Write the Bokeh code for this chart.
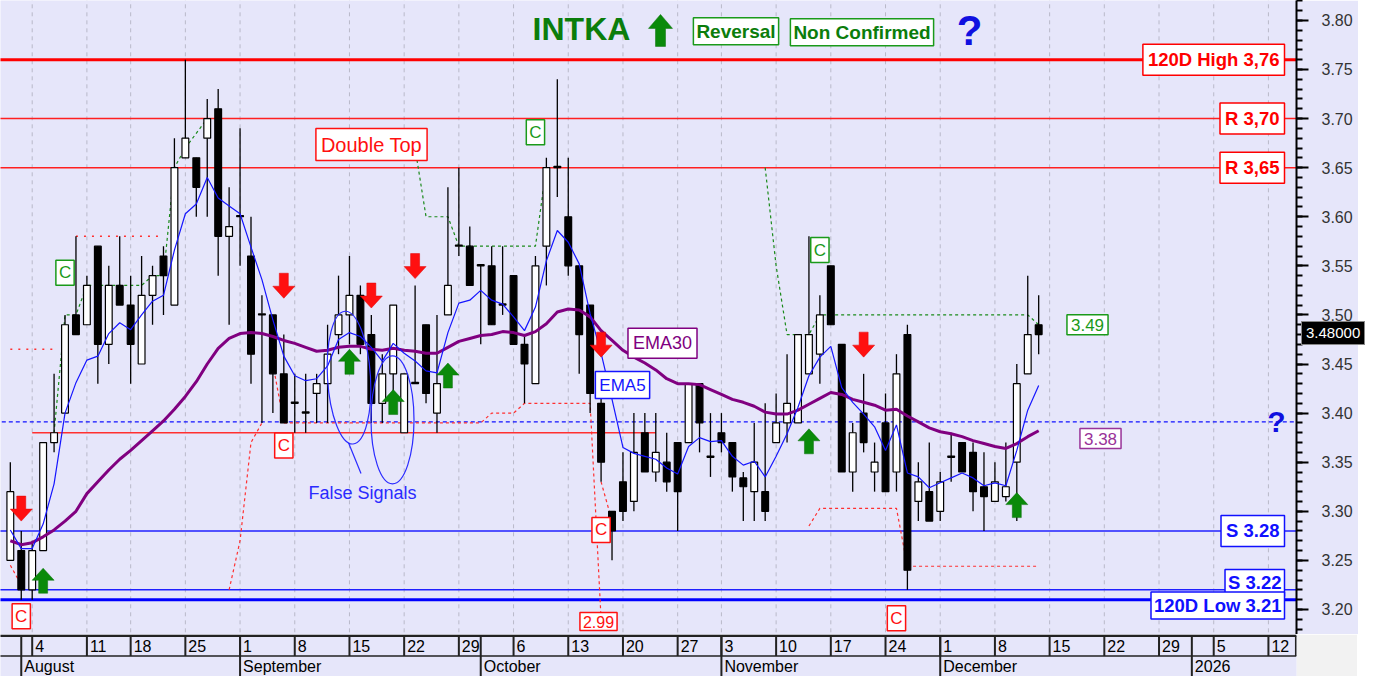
import pandas as pd
from bokeh.plotting import figure
from bokeh.layouts import column, row
from bokeh.models import Range1d, SingleIntervalTicker, PrintfTickFormatter, Label, Div
from bokeh.core.properties import value
from bokeh.embed import file_html
from bokeh.resources import INLINE

# ------------------------------------------------------------------ data
ticker_name = "INTKA"
dates = [
    "2025-07-31", "2025-08-01",
    "2025-08-04", "2025-08-05", "2025-08-06", "2025-08-07", "2025-08-08",
    "2025-08-11", "2025-08-12", "2025-08-13", "2025-08-14",
    "2025-08-18", "2025-08-19", "2025-08-20", "2025-08-21", "2025-08-22",
    "2025-08-25", "2025-08-26", "2025-08-27", "2025-08-28", "2025-08-29",
    "2025-09-01", "2025-09-02", "2025-09-03", "2025-09-04", "2025-09-05",
    "2025-09-08", "2025-09-09", "2025-09-10", "2025-09-11", "2025-09-12",
    "2025-09-15", "2025-09-16", "2025-09-17", "2025-09-18", "2025-09-19",
    "2025-09-22", "2025-09-23", "2025-09-24", "2025-09-25", "2025-09-26",
    "2025-09-29", "2025-09-30", "2025-10-01", "2025-10-02", "2025-10-03",
    "2025-10-06", "2025-10-07", "2025-10-08", "2025-10-09", "2025-10-10",
    "2025-10-13", "2025-10-14", "2025-10-15", "2025-10-16", "2025-10-17",
    "2025-10-20", "2025-10-21", "2025-10-22", "2025-10-23", "2025-10-24",
    "2025-10-27", "2025-10-29", "2025-10-30", "2025-10-31",
    "2025-11-03", "2025-11-04", "2025-11-05", "2025-11-06", "2025-11-07",
    "2025-11-10", "2025-11-11", "2025-11-12", "2025-11-13", "2025-11-14",
    "2025-11-17", "2025-11-18", "2025-11-19", "2025-11-20", "2025-11-21",
    "2025-11-24", "2025-11-25", "2025-11-26", "2025-11-27", "2025-11-28",
    "2025-12-01", "2025-12-02", "2025-12-03", "2025-12-04", "2025-12-05",
    "2025-12-08", "2025-12-09", "2025-12-10", "2025-12-11", "2025-12-12",
]
opens = [3.25, 3.26, 3.22, 3.26, 3.37, 3.40, 3.50, 3.49, 3.57, 3.47, 3.53,
         3.51, 3.45, 3.52, 3.56, 3.51, 3.66, 3.66, 3.68, 3.71, 3.58,
         3.60, 3.56, 3.50, 3.50, 3.44, 3.41, 3.40, 3.42, 3.43, 3.48,
         3.50, 3.52, 3.48, 3.41, 3.44, 3.38, 3.43, 3.49, 3.40, 3.50,
         3.57, 3.57, 3.55, 3.55, 3.51, 3.54, 3.47, 3.43, 3.57, 3.65,
         3.60, 3.55, 3.51, 3.41, 3.30, 3.33, 3.31, 3.38, 3.34, 3.35,
         3.37, 3.37, 3.43, 3.355, 3.38, 3.37, 3.334, 3.32, 3.32,
         3.37, 3.39, 3.39, 3.44, 3.46, 3.55, 3.47, 3.34, 3.40, 3.34,
         3.39, 3.34, 3.48, 3.31, 3.32, 3.30, 3.355, 3.37, 3.36, 3.325,
         3.31, 3.315, 3.35, 3.44, 3.49]
highs = [3.35, 3.28, 3.27, 3.37, 3.44, 3.50, 3.58, 3.54, 3.57, 3.55, 3.58,
         3.54, 3.56, 3.55, 3.57, 3.68, 3.76, 3.66, 3.72, 3.73, 3.63,
         3.69, 3.60, 3.52, 3.50, 3.48, 3.44, 3.44, 3.44, 3.49, 3.54,
         3.56, 3.53, 3.50, 3.46, 3.51, 3.44, 3.53, 3.49, 3.50, 3.63,
         3.65, 3.59, 3.55, 3.57, 3.57, 3.54, 3.48, 3.56, 3.66, 3.74,
         3.66, 3.55, 3.51, 3.42, 3.30, 3.36, 3.40, 3.40, 3.40, 3.38,
         3.37, 3.43, 3.43, 3.40, 3.40, 3.37, 3.34, 3.39, 3.41,
         3.42, 3.46, 3.48, 3.58, 3.52, 3.55, 3.47, 3.39, 3.44, 3.37,
         3.42, 3.46, 3.49, 3.35, 3.37, 3.34, 3.38, 3.37, 3.37, 3.36,
         3.35, 3.37, 3.45, 3.54, 3.52]
lows = [3.25, 3.21, 3.21, 3.26, 3.36, 3.40, 3.48, 3.49, 3.43, 3.45, 3.51,
        3.43, 3.45, 3.49, 3.50, 3.51, 3.66, 3.60, 3.60, 3.54, 3.49,
        3.55, 3.43, 3.39, 3.40, 3.39, 3.38, 3.38, 3.39, 3.39, 3.46,
        3.47, 3.46, 3.39, 3.39, 3.42, 3.38, 3.43, 3.41, 3.38, 3.50,
        3.56, 3.53, 3.47, 3.49, 3.50, 3.47, 3.41, 3.43, 3.53, 3.62,
        3.54, 3.44, 3.40, 3.33, 3.25, 3.29, 3.30, 3.34, 3.33, 3.32,
        3.28, 3.37, 3.36, 3.335, 3.36, 3.32, 3.29, 3.29, 3.29,
        3.37, 3.37, 3.39, 3.44, 3.43, 3.49, 3.34, 3.32, 3.36, 3.32,
        3.32, 3.32, 3.22, 3.29, 3.29, 3.29, 3.33, 3.34, 3.30, 3.28,
        3.31, 3.31, 3.29, 3.44, 3.46]
closes = [3.32, 3.22, 3.26, 3.37, 3.38, 3.49, 3.48, 3.53, 3.47, 3.53, 3.51,
          3.47, 3.52, 3.54, 3.54, 3.65, 3.68, 3.63, 3.70, 3.58, 3.59,
          3.60, 3.46, 3.50, 3.44, 3.39, 3.41, 3.40, 3.43, 3.46, 3.50,
          3.52, 3.47, 3.41, 3.44, 3.51, 3.44, 3.43, 3.42, 3.43, 3.53,
          3.57, 3.53, 3.55, 3.49, 3.51, 3.47, 3.45, 3.55, 3.65, 3.65,
          3.55, 3.48, 3.42, 3.35, 3.28, 3.30, 3.36, 3.34, 3.36, 3.33,
          3.32, 3.43, 3.39, 3.355, 3.37, 3.335, 3.325, 3.35, 3.30,
          3.39, 3.41, 3.48, 3.48, 3.50, 3.49, 3.34, 3.38, 3.37, 3.35,
          3.32, 3.44, 3.24, 3.33, 3.29, 3.33, 3.355, 3.34, 3.32, 3.315,
          3.33, 3.325, 3.43, 3.48, 3.48]
ema5 = [3.281, 3.262, 3.262, 3.287, 3.328, 3.400, 3.431, 3.454, 3.458, 3.481, 3.492,
        3.485, 3.500, 3.514, 3.520, 3.566, 3.603, 3.613, 3.640, 3.619, 3.611,
        3.603, 3.569, 3.536, 3.495, 3.458, 3.438, 3.433, 3.435, 3.448, 3.475,
        3.482, 3.478, 3.467, 3.453, 3.471, 3.461, 3.453, 3.443, 3.441, 3.482,
        3.512, 3.515, 3.525, 3.515, 3.511, 3.498, 3.484, 3.508, 3.555, 3.586,
        3.574, 3.552, 3.501, 3.461, 3.414, 3.365, 3.359, 3.356, 3.353, 3.344,
        3.338, 3.366, 3.375, 3.371, 3.372, 3.356, 3.347, 3.351, 3.335,
        3.356, 3.379, 3.406, 3.438, 3.457, 3.468, 3.426, 3.411, 3.399, 3.386,
        3.362, 3.388, 3.339, 3.335, 3.324, 3.329, 3.334, 3.339, 3.334, 3.326,
        3.329, 3.326, 3.362, 3.403, 3.428]
ema30 = [3.270, 3.266, 3.268, 3.274, 3.281, 3.290, 3.300, 3.318, 3.330, 3.342, 3.353,
         3.362, 3.372, 3.382, 3.392, 3.404, 3.417, 3.432, 3.450, 3.466, 3.476,
         3.481, 3.482, 3.481, 3.478, 3.474, 3.471, 3.467, 3.463, 3.464, 3.467,
         3.468, 3.468, 3.465, 3.464, 3.466, 3.464, 3.463, 3.461, 3.461, 3.467,
         3.473, 3.476, 3.479, 3.480, 3.483, 3.482, 3.479, 3.483, 3.491, 3.503,
         3.506, 3.505, 3.498, 3.484, 3.474, 3.464, 3.457, 3.451, 3.444, 3.435,
         3.430, 3.430, 3.429, 3.424, 3.419, 3.414, 3.411, 3.407, 3.401,
         3.399, 3.399, 3.403, 3.409, 3.415, 3.421, 3.419, 3.414, 3.411, 3.408,
         3.403, 3.404, 3.397, 3.391, 3.385, 3.381, 3.379, 3.376, 3.372, 3.369,
         3.366, 3.364, 3.369, 3.376, 3.382]

holidays = ["2025-08-15", "2025-10-28"]

high_120d = 3.76
low_120d = 3.21
resistances = [3.70, 3.65]
resistance_labels = ["R 3,70", "R 3,65"]
supports = [3.28, 3.22]
support_labels = ["S 3.28", "S 3.22"]
pivot_level = 3.391
neckline_level = 3.38
neckline_span = ["2025-08-04", "2025-10-23"]
last_price = 3.48
trail_value = 3.49
ema30_value = 3.38
target_value = 2.99

week_days = ["2025-08-04", "2025-08-11", "2025-08-18", "2025-08-25", "2025-09-01",
             "2025-09-08", "2025-09-15", "2025-09-22", "2025-09-29", "2025-10-06",
             "2025-10-13", "2025-10-20", "2025-10-27", "2025-11-03", "2025-11-10",
             "2025-11-17", "2025-11-24", "2025-12-01", "2025-12-08", "2025-12-15",
             "2025-12-22", "2025-12-29", "2026-01-05", "2026-01-12"]
week_labels = ["4", "11", "18", "25", "1", "8", "15", "22", "29", "6", "13", "20",
               "27", "3", "10", "17", "24", "1", "8", "15", "22", "29", "5", "12"]
month_days = ["2025-08-01", "2025-09-01", "2025-10-01", "2025-11-03", "2025-12-01", "2026-01-01"]
month_labels = ["August", "September", "October", "November", "December", "2026"]

sell_dates = ["2025-08-01", "2025-09-05", "2025-09-17", "2025-09-23", "2025-10-16", "2025-11-20"]
sell_tips = [3.290, 3.517, 3.507, 3.537, 3.457, 3.457]
buy_dates = ["2025-08-05", "2025-09-15", "2025-09-19", "2025-09-26", "2025-11-13", "2025-12-10"]
buy_tips = [3.242, 3.465, 3.424, 3.451, 3.384, 3.319]

c_green_dates = ["2025-08-07", "2025-10-08", "2025-11-14"]
c_green_y = [3.543, 3.686, 3.566]
c_red_dates = ["2025-08-01", "2025-09-05", "2025-10-16", "2025-11-25"]
c_red_y = [3.193, 3.367, 3.281, 3.191]

green_trails = [
    (["2025-08-06", "2025-08-07", "2025-08-08", "2025-08-11", "2025-08-19", "2025-08-20",
      "2025-08-21", "2025-08-22", "2025-08-25", "2025-08-27"],
     [3.38, 3.50, 3.50, 3.53, 3.53, 3.54, 3.54, 3.65, 3.67, 3.70]),
    (["2025-09-23", "2025-09-24", "2025-09-26", "2025-09-29", "2025-10-08", "2025-10-09"],
     [3.67, 3.60, 3.60, 3.57, 3.57, 3.65]),
    (["2025-11-07", "2025-11-10", "2025-11-11", "2025-11-13", "2025-11-14", "2025-12-11", "2025-12-12"],
     [3.65, 3.55, 3.48, 3.48, 3.50, 3.50, 3.49]),
]
red_trails = [
    (["2025-07-31", "2025-08-01"], [3.245, 3.225]),
    (["2025-08-29", "2025-09-01", "2025-09-02", "2025-09-03"], [3.22, 3.27, 3.37, 3.39]),
    (["2025-09-04", "2025-09-05", "2025-10-01", "2025-10-02", "2025-10-06", "2025-10-07",
      "2025-10-15", "2025-10-16"],
     [3.45, 3.39, 3.39, 3.40, 3.40, 3.41, 3.41, 3.19]),
    (["2025-10-16", "2025-10-17"], [3.33, 3.29]),
    (["2025-11-13", "2025-11-14", "2025-11-25", "2025-11-26", "2025-12-12"],
     [3.285, 3.303, 3.303, 3.244, 3.244]),
]
red_dotted = [
    (["2025-07-31", "2025-08-06"], [3.465, 3.465]),
    (["2025-08-08", "2025-08-21"], [3.58, 3.58]),
]

# ------------------------------------------------------------------ calendar
cal = pd.bdate_range("2025-07-31", "2026-01-16")
cal = cal[~cal.isin(pd.to_datetime(holidays))]
origin = cal.get_loc(pd.Timestamp("2025-08-04"))


def X(d):
    return float(cal.get_loc(pd.Timestamp(d)) - origin)


# helpers that turn a picture-pixel placement into data coordinates (annotations only)
def RX(px):
    return (px - 31.7) / 10.94


def RY(py):
    return 3.80 - (py - 20) / 988.0


BG = "#E6E6FA"
W, AXW = 1358, 62
FW, FH, BH = W - AXW, 634, 42
x0r, x1r = RX(0), RX(FW)
y0r, y1r = RY(638), RY(0)
PXX = (x1r - x0r) / FW
PXY = (y1r - y0r) / FH
FONT = "Liberation Sans"

p = figure(width=W, height=FH, x_range=Range1d(x0r, x1r), y_range=Range1d(y0r, y1r),
           toolbar_location=None, output_backend="svg", x_axis_location=None,
           y_axis_location="right", min_border_left=0, min_border_right=AXW,
           min_border_top=0, min_border_bottom=0, background_fill_color=BG,
           border_fill_color=BG, outline_line_color=None)
p.grid.visible = False
ax = p.yaxis[0]
ax.ticker = SingleIntervalTicker(interval=0.05, num_minor_ticks=5)
ax.formatter = PrintfTickFormatter(format="%.2f")
ax.axis_line_color = "black"
ax.axis_line_width = 2
ax.major_tick_out = 12
ax.major_tick_in = 0
ax.minor_tick_out = 6
ax.minor_tick_in = 0
ax.major_tick_line_width = 2
ax.minor_tick_line_width = 2
ax.major_tick_line_color = "black"
ax.minor_tick_line_color = "black"
ax.major_label_text_font = FONT
ax.major_label_text_font_size = "16px"
ax.major_label_text_color = "#333333"
ax.major_label_standoff = 13

# weekly grid
wx = [X(d) for d in week_days]
p.segment(x0=wx, y0=[y0r - 1] * len(wx), x1=wx, y1=[y1r + 1] * len(wx),
          line_color="#b9b9c9", line_dash="4 4", line_width=1)


def hline(y, color, width, dash="solid", xa=None, xb=None):
    xa = x0r - 5 if xa is None else xa
    xb = x1r + 5 if xb is None else xb
    p.segment(x0=[xa], y0=[y], x1=[xb], y1=[y], line_color=color, line_width=width, line_dash=dash)


hline(high_120d, "#ff0000", 3)
for r in resistances:
    hline(r, "#ff2020", 1.5)
for s in supports:
    hline(s, "#2020ff", 1.5)
hline(low_120d, "#0000ff", 3)
hline(neckline_level, "#ff3030", 1.5, xa=X(neckline_span[0]), xb=X(neckline_span[1]))
hline(pivot_level, "#1010ff", 1.2, dash="4 3")

for ds, ys in red_dotted:
    p.line([X(d) for d in ds], ys, line_color="#ff3030", line_width=1.5, line_dash="2 6")
for ds, ys in red_trails:
    p.line([X(d) for d in ds], ys, line_color="#ff3030", line_width=1.2, line_dash="3 3")
for ds, ys in green_trails:
    p.line([X(d) for d in ds], ys, line_color="#1a8a1a", line_width=1.2, line_dash="3 3")

# candles
xs = [X(d) for d in dates]
tops = [max(o, c) for o, c in zip(opens, closes)]
bots = [min(o, c) for o, c in zip(opens, closes)]
tops = [max(t, b + 0.0012) for t, b in zip(tops, bots)]
fills = ["white" if c >= o else "black" for o, c in zip(opens, closes)]
p.segment(x0=xs, y0=lows, x1=xs, y1=highs, line_color="black", line_width=1.3)
p.vbar(x=xs, width=0.62, top=tops, bottom=bots, fill_color=fills, line_color="black", line_width=1.2)

# EMAs
p.line(xs, ema30, line_color="#800080", line_width=3)
p.line(xs, ema5, line_color="#1515ff", line_width=1.2)

# false-signal ellipses
p.ellipse(x=[RX(348.5), RX(392)], y=[RY(379.5), RY(422)], width=[43, 43], height=[133, 128],
          angle=[0.06, 0.0], width_units="screen", height_units="screen",
          fill_color=None, line_color="#2a2aff", line_width=1.2)
p.line([RX(348), RX(360.5)], [RY(445), RY(476)], line_color="#2a2aff", line_width=1.2)


def arrow_shape(xc, ytip, up, hw=11, hh=12, sw=4.5, sh=13):
    sgn = -1 if up else 1
    pts = [(0, 0), (-hw, hh), (-sw, hh), (-sw, hh + sh), (sw, hh + sh), (sw, hh), (hw, hh)]
    return [xc + dx * PXX for dx, dy in pts], [ytip + sgn * dy * PXY for dx, dy in pts]


sx, sy = zip(*[arrow_shape(X(d), t, False) for d, t in zip(sell_dates, sell_tips)])
p.patches(list(sx), list(sy), fill_color="#ff1010", line_color="#e00000", line_width=0.5)
bx, by = zip(*[arrow_shape(X(d), t, True) for d, t in zip(buy_dates, buy_tips)])
p.patches(list(bx), list(by), fill_color="#0a8a0a", line_color="#087008", line_width=0.5)
tx, ty = arrow_shape(RX(660), RY(14), True, hw=12, hh=14, sw=5, sh=18)
p.patches([tx], [ty], fill_color="#0a8a0a", line_color="#087008", line_width=0.5)


def box(x, y, text, color, size, bold=False, align="center", pad=4, fill="white",
        tcolor=None, border=True, bw=1.5):
    p.add_layout(Label(x=x, y=y, text=text, text_color=tcolor or color, text_font=FONT,
                       text_font_size=f"{size}px",
                       text_font_style="bold" if bold else "normal",
                       text_align=align, text_baseline="middle",
                       background_fill_color=fill,
                       border_line_color=color if border else None,
                       border_line_width=bw, padding=pad))


# title row
box(RX(581), RY(29), ticker_name, "#0b7d0b", 32, bold=True, fill=None, border=False)
box(RX(735.5), RY(31), "Reversal", "#1a9a1a", 19, bold=True, pad=3, tcolor="#0b7d0b")
box(RX(861.5), RY(32), "Non Confirmed", "#1a9a1a", 19, bold=True, pad=3, tcolor="#0b7d0b")
box(RX(969), RY(30), "?", "#1010e0", 42, bold=True, fill=None, border=False)

# right-side level labels
xr = RX(1284)
box(xr, high_120d, f"120D High {high_120d:.2f}".replace(".", ","), "#ff0000", 18.5, bold=True, align="right", pad=5)
for r, t in zip(resistances, resistance_labels):
    box(xr, r, t, "#ff0000", 18.5, bold=True, align="right", pad=5)
box(xr, supports[0], support_labels[0], "#1010ff", 18.5, bold=True, align="right", pad=5)
box(xr, supports[1] + 0.007, support_labels[1], "#1010ff", 18.5, bold=True, align="right", pad=3)
box(xr, low_120d - 0.006, f"120D Low {low_120d:.2f}", "#1010ff", 18.5, bold=True, align="right", pad=3)
box(RX(1276), pivot_level, "?", "#1010e0", 30, bold=True, fill=None, border=False)

# other labels
box(RX(371), RY(145), "Double Top", "#ff1010", 20, pad=5)
box(RX(362), RY(496), "False Signals", "#2a2aff", 18, fill=None, border=False)
box(RX(662), RY(345), "EMA30", "#800080", 18, pad=5)
box(RX(622), RY(387), "EMA5", "#1515ff", 17, pad=4)
box(RX(1087), trail_value, f"{trail_value:.2f}", "#1a9a1a", 17, pad=4)
box(RX(1100), ema30_value - 0.006, f"{ema30_value:.2f}", "#993399", 17, pad=4)
box(RX(598), RY(625), f"{target_value:.2f}", "#ff1010", 16, pad=3)
for d, y in zip(c_green_dates, c_green_y):
    box(X(d), y, "C", "#1a9a1a", 17, pad=3)
for d, y in zip(c_red_dates, c_red_y):
    box(X(d), y, "C", "#ff1010", 17, pad=3)

# ------------------------------------------------------------------ date band
p2 = figure(width=W - 1, height=BH, x_range=p.x_range, y_range=Range1d(0, 2.06),
            toolbar_location=None, output_backend="svg", x_axis_location=None,
            y_axis_location=None, min_border_left=0, min_border_right=AXW - 1,
            min_border_top=0, min_border_bottom=0, background_fill_color=BG,
            border_fill_color="#f2f2f2", outline_line_color=None)
p2.grid.visible = False
mx = [X(d) for d in month_days]
p2.segment(x0=wx, y0=[1] * len(wx), x1=wx, y1=[2] * len(wx), line_color="#222222", line_width=2)
p2.segment(x0=mx, y0=[0] * len(mx), x1=mx, y1=[2] * len(mx), line_color="#222222", line_width=2)
p2.segment(x0=[x0r - 5, x0r - 5], y0=[2.0, 1.0], x1=[x1r, x1r], y1=[2.0, 1.0],
           line_color="#222222", line_width=[2.5, 1.5])
p2.segment(x0=[x1r - 0.05], y0=[1], x1=[x1r - 0.05], y1=[2], line_color="#222222", line_width=2)
p2.text(x=[v + 3 * PXX for v in wx], y=[1.5] * len(wx), text=week_labels,
        text_align="left", text_baseline="middle", text_font=value(FONT),
        text_font_size="16px", text_color="black")
p2.text(x=[v + 3 * PXX for v in mx], y=[0.5] * len(mx), text=month_labels,
        text_align="left", text_baseline="middle", text_font=value(FONT),
        text_font_size="16px", text_color="black")

# last-price tag over the price axis
tag = Div(width=1, height=1, margin=(0, 0, 0, 0), text=(
    '<div style="position:fixed;left:1301px;top:321px;background:#000;color:#fff;'
    'font-family:\'Liberation Sans\',Arial,sans-serif;font-size:15px;line-height:18px;'
    'padding:2px 4px;border:1px solid #888;white-space:nowrap;">%.5f</div>' % last_price))

layout = column(p, row(p2, tag))
open("out.html", "w").write(file_html(layout, INLINE))
